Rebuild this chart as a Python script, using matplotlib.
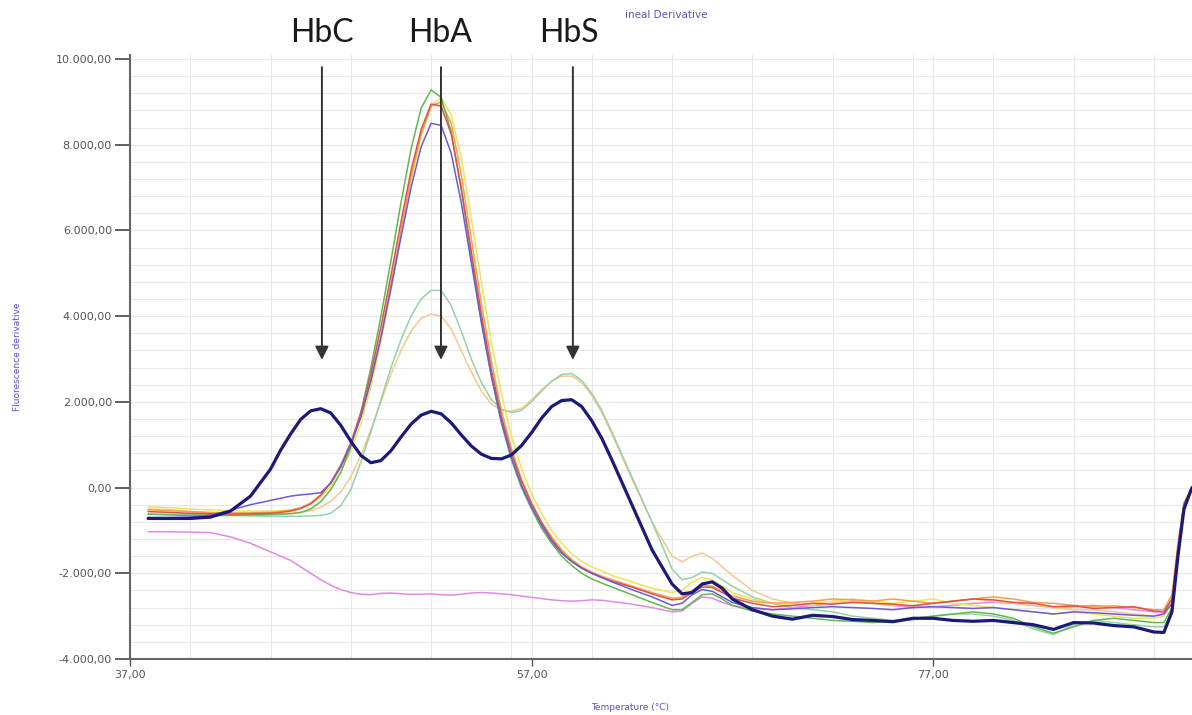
import matplotlib
matplotlib.use('Agg')
import matplotlib.pyplot as plt
from matplotlib.ticker import MultipleLocator, FixedLocator, FuncFormatter

# close open plots
plt.close('all')

# temperature grid (deg C) the curves were read at
temps = [37.9, 39, 40, 41, 42, 43, 44, 44.5, 45, 45.5, 46, 46.5, 47, 47.5, 48, 48.5,
         49, 49.5, 50, 50.5, 51, 51.5, 52, 52.5, 53, 53.5, 54, 54.5, 55, 55.5, 56, 56.5,
         57, 57.5, 58, 58.5, 59, 59.5, 60, 60.5, 61, 62, 63, 64, 64.5, 65, 65.5, 66,
         66.5, 67, 68, 69, 70, 71, 72, 73, 74, 75, 76, 77, 78, 79, 80, 81, 82, 83,
         84, 85, 86, 87, 88, 88.5, 88.9, 89.2, 89.5, 89.9]

# HbS/HbC heterozygote (thick navy curve)
hb_sc = [-720, -720, -720, -690, -550, -200, 430, 870, 1250, 1590, 1790, 1840,
         1740, 1450, 1080, 750, 580, 630, 860, 1180, 1480, 1690, 1780, 1720,
         1510, 1230, 970, 780, 680, 670, 760, 980, 1280, 1620, 1890, 2030,
         2050, 1890, 1560, 1150, 650, -400, -1450, -2250, -2480, -2450, -2250, -2200,
         -2350, -2600, -2850, -3000, -3070, -2980, -3010, -3080, -3100, -3130, -3050, -3050,
         -3100, -3120, -3100, -3150, -3200, -3310, -3150, -3160, -3220, -3250, -3370, -3380,
         -2900, -1600, -500, 0]

# normal samples (single big HbA peak)
aa_green = [-620, -640, -650, -650, -650, -640, -630, -620, -610, -580, -500, -330,
            -50, 350, 950, 1750, 2800, 4000, 5300, 6650, 7900, 8850, 9280, 9100,
            8300, 6950, 5400, 3900, 2600, 1500, 650, 0, -500, -950, -1300, -1600,
            -1820, -2000, -2130, -2230, -2320, -2500, -2680, -2850, -2850, -2680, -2500, -2480,
            -2600, -2750, -2880, -2950, -3000, -3050, -3100, -3120, -3150, -3120, -3080, -3000,
            -2950, -2900, -2950, -3050, -3250, -3400, -3250, -3100, -3050, -3100, -3150, -3150,
            -2800, -1500, -450, 0]
aa_yellow = [-450, -470, -500, -520, -540, -550, -550, -540, -520, -470, -380, -220,
             30, 380, 850, 1500, 2350, 3400, 4600, 5900, 7150, 8200, 8900, 9100,
             8700, 7700, 6300, 4800, 3400, 2200, 1200, 450, -150, -600, -1000, -1300,
             -1550, -1720, -1850, -1950, -2050, -2200, -2350, -2450, -2400, -2200, -2100, -2150,
             -2300, -2450, -2600, -2700, -2750, -2700, -2650, -2600, -2650, -2700, -2650, -2600,
             -2700, -2750, -2800, -2850, -2900, -2950, -2900, -2950, -3000, -3050, -3050, -3000,
             -2700, -1400, -400, 0]
aa_orange = [-520, -540, -560, -580, -590, -590, -580, -560, -530, -470, -360, -170,
             120, 500, 1000, 1650, 2500, 3550, 4750, 6000, 7250, 8250, 8900, 9000,
             8500, 7300, 5800, 4300, 2950, 1800, 900, 200, -350, -800, -1150, -1450,
             -1680, -1850, -1970, -2070, -2150, -2300, -2450, -2580, -2560, -2400, -2280, -2300,
             -2420, -2530, -2650, -2700, -2680, -2650, -2600, -2620, -2650, -2600, -2650, -2700,
             -2650, -2600, -2550, -2600, -2680, -2700, -2750, -2780, -2760, -2800, -2850, -2850,
             -2500, -1300, -350, 0]
aa_red = [-560, -580, -600, -610, -620, -610, -600, -580, -550, -490, -380, -180,
          120, 520, 1050, 1750, 2650, 3750, 4950, 6200, 7400, 8350, 8950, 8900,
          8250, 7000, 5500, 4050, 2750, 1650, 800, 150, -380, -820, -1200, -1500,
          -1720, -1880, -2000, -2100, -2180, -2320, -2480, -2620, -2600, -2450, -2320, -2330,
          -2450, -2580, -2700, -2780, -2750, -2700, -2720, -2680, -2700, -2720, -2760, -2700,
          -2650, -2600, -2620, -2680, -2700, -2780, -2760, -2820, -2800, -2780, -2880, -2900,
          -2600, -1400, -400, 0]
aa_violet = [-700, -700, -690, -640, -530, -400, -300, -250, -200, -170, -150, -120,
             100, 480, 1000, 1650, 2500, 3500, 4650, 5850, 7000, 7950, 8500, 8450,
             7800, 6650, 5250, 3850, 2600, 1550, 700, 50, -450, -880, -1250, -1530,
             -1730, -1880, -2000, -2100, -2200, -2380, -2550, -2750, -2700, -2500, -2380, -2420,
             -2550, -2680, -2800, -2850, -2830, -2800, -2780, -2800, -2820, -2850, -2800, -2780,
             -2800, -2820, -2800, -2850, -2900, -2950, -2900, -2920, -2950, -2980, -3000, -2950,
             -2700, -1500, -400, 0]

# HbA/HbS heterozygotes (two peaks)
as_teal = [-620, -620, -630, -640, -650, -660, -670, -670, -670, -670, -660, -650,
           -600, -420, -50, 600, 1300, 2050, 2800, 3450, 4000, 4400, 4600, 4600,
           4250, 3650, 3000, 2450, 2050, 1830, 1750, 1800, 2000, 2250, 2480, 2640,
           2660, 2500, 2200, 1800, 1300, 250, -800, -1900, -2150, -2100, -1970, -2000,
           -2150, -2300, -2550, -2700, -2800, -2850, -2900, -3000, -3050, -3100, -3050, -3000,
           -2950, -2950, -3000, -3100, -3300, -3430, -3200, -3100, -3150, -3200, -3250, -3250,
           -2900, -1600, -500, 0]
as_peach = [-500, -520, -560, -590, -610, -620, -620, -610, -600, -580, -540, -460,
            -320, -100, 250, 750, 1350, 2000, 2650, 3200, 3650, 3950, 4050, 4000,
            3700, 3200, 2700, 2250, 1950, 1800, 1780, 1850, 2050, 2280, 2480, 2600,
            2600, 2450, 2150, 1750, 1250, 200, -800, -1600, -1730, -1600, -1530, -1650,
            -1850, -2050, -2400, -2600, -2700, -2750, -2700, -2650, -2700, -2750, -2750, -2700,
            -2650, -2600, -2650, -2700, -2750, -2800, -2850, -2850, -2900, -2950, -3000, -2950,
            -2700, -1400, -400, 0]

# negative control (flat pink curve)
neg_ctrl = [-1030, -1030, -1040, -1050, -1150, -1300, -1500, -1600, -1700, -1850, -2000, -2150,
            -2280, -2380, -2450, -2490, -2500, -2470, -2460, -2480, -2490, -2490, -2480, -2500,
            -2510, -2490, -2460, -2450, -2460, -2480, -2500, -2530, -2560, -2590, -2620, -2640,
            -2650, -2640, -2620, -2630, -2660, -2720, -2800, -2900, -2880, -2700, -2550, -2580,
            -2680, -2750, -2820, -2850, -2800, -2750, -2700, -2650, -2700, -2750, -2800, -2780,
            -2750, -2700, -2680, -2700, -2750, -2800, -2780, -2750, -2800, -2850, -2900, -2900,
            -2600, -1400, -400, 0]

# peak markers
peak_names = ['HbC', 'HbA', 'HbS']
arrow_T = [46.56, 52.49, 59.06]
label_T = [46.58, 52.44, 58.86]

fig = plt.figure(figsize=(11.92, 7.15), dpi=100)
ax = fig.add_axes([130 / 1192, 56 / 715, 1062 / 1192, 604.3 / 715])

# draw curves, thin ones first, navy on top
line_kw = dict(solid_joinstyle='round', solid_capstyle='round')
ax.plot(temps, neg_ctrl, color='#e388e6', lw=1.1, **line_kw)
ax.plot(temps, as_peach, color='#f6c890', lw=1.1, **line_kw)
ax.plot(temps, as_teal, color='#93d3a6', lw=1.1, **line_kw)
ax.plot(temps, aa_yellow, color='#eee35a', lw=1.1, **line_kw)
ax.plot(temps, aa_orange, color='#f3a04a', lw=1.1, **line_kw)
ax.plot(temps, aa_green, color='#5fb94f', lw=1.1, **line_kw)
ax.plot(temps, aa_red, color='#e0504a', lw=1.1, **line_kw)
ax.plot(temps, aa_violet, color='#6a5cd6', lw=1.1, **line_kw)
ax.plot(temps, hb_sc, color='#1b1a78', lw=2.3, **line_kw)

ax.set_xlim(37, 89.9)
ax.set_ylim(-4000, 10100)

# ticks and grid
ax.xaxis.set_major_locator(FixedLocator([37, 57, 77]))
ax.xaxis.set_minor_locator(MultipleLocator(4))
ax.yaxis.set_major_locator(MultipleLocator(2000))
ax.yaxis.set_minor_locator(MultipleLocator(400))
ax.xaxis.set_major_formatter(FuncFormatter(lambda v, p: f'{v:.2f}'.replace('.', ',')))
ax.yaxis.set_major_formatter(FuncFormatter(
    lambda v, p: f'{v:,.2f}'.replace(',', 'X').replace('.', ',').replace('X', '.')))
ax.grid(which='both', color='#e8e8e8', lw=0.8)
ax.set_axisbelow(True)
ax.tick_params(axis='y', which='major', length=11, width=1.3, color='#555555',
               labelsize=8, labelcolor='#555555', pad=2)
ax.tick_params(axis='x', which='major', length=5, width=1.0, color='#555555',
               labelsize=8, labelcolor='#555555', pad=3)
ax.tick_params(which='minor', length=0)

for side in ['top', 'right']:
    ax.spines[side].set_visible(False)
for side in ['left', 'bottom']:
    ax.spines[side].set_color('#666666')
    ax.spines[side].set_linewidth(1.5)

ax.set_xlabel('Temperature (°C)', fontsize=6.5, color='#5a4fc8')
ax.xaxis.set_label_coords(0.471, -0.0728)
ax.set_ylabel('Fluorescence derivative', fontsize=6.5, color='#5a4fc8')
ax.yaxis.set_label_coords(-0.1017, 0.5)

fig.text(0.524, 0.979, 'ineal Derivative', fontsize=7.5, color='#5a55b8', va='center')

# arrows and peak names
for name, xa, xl in zip(peak_names, arrow_T, label_T):
    ax.annotate('', xy=(xa, 2980), xytext=(xa, 9810),
                arrowprops=dict(arrowstyle='-|>', color='#333333', lw=1.4,
                                mutation_scale=20, shrinkA=0, shrinkB=0))
    ax.text(xl, 10397, name, ha='center', va='baseline', fontsize=23,
            family='Lato', color='#1a1a1a', clip_on=False)

plt.savefig('out.png', dpi=100)
